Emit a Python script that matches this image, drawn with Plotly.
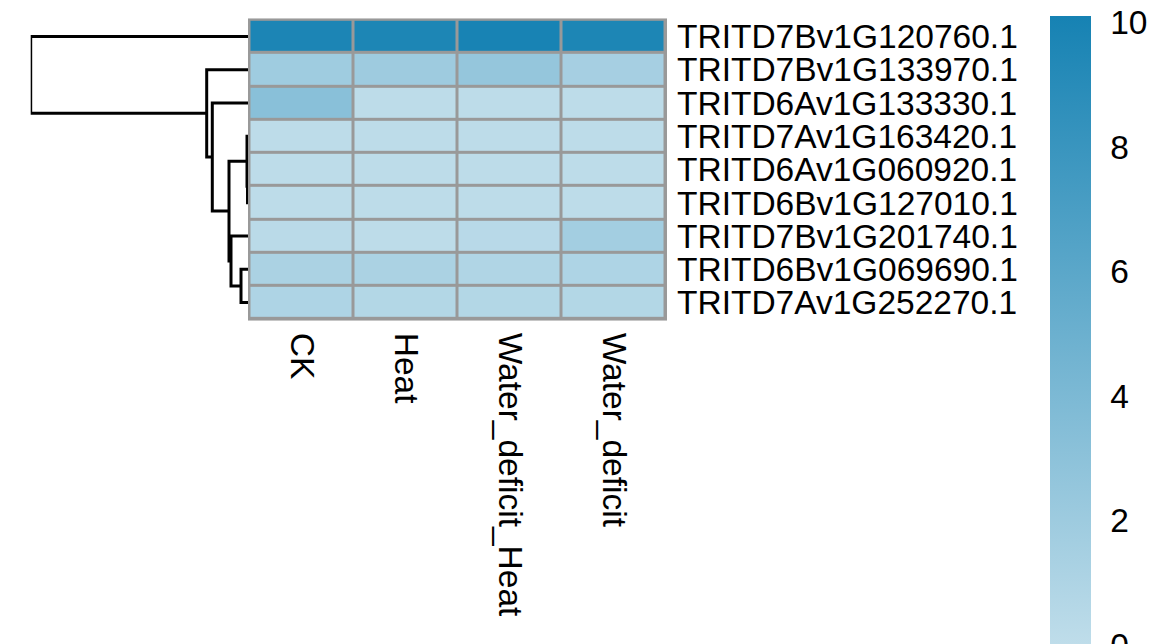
import plotly.graph_objects as go

# ---------------- data ----------------
genes = [
    "TRITD7Bv1G120760.1",
    "TRITD7Bv1G133970.1",
    "TRITD6Av1G133330.1",
    "TRITD7Av1G163420.1",
    "TRITD6Av1G060920.1",
    "TRITD6Bv1G127010.1",
    "TRITD7Bv1G201740.1",
    "TRITD6Bv1G069690.1",
    "TRITD7Av1G252270.1",
]
conditions = ["CK", "Heat", "Water_deficit_Heat", "Water_deficit"]

values_CK = [9.75, 1.9, 3.2, 0.1, 0.1, 0.1, 0.3, 1.2, 1.0]
values_Heat = [9.7, 2.0, 0.1, 0.1, 0.1, 0.1, 0.1, 1.2, 0.7]
values_WDH = [10.0, 2.5, 0.1, 0.1, 0.1, 0.1, 0.4, 0.9, 0.7]
values_WD = [9.7, 1.5, 0.1, 0.1, 0.1, 0.1, 1.7, 1.0, 0.7]

# hierarchical clustering merges (rows in display order).
# child is a leaf row index when the *_is_leaf flag is True, else a merge index
merge_left = [4, 3, 7, 6, 1, 2, 1, 0]
merge_right = [5, 0, 8, 2, 3, 4, 5, 6]
left_is_leaf = [True, True, True, True, False, True, True, True]
right_is_leaf = [True, False, True, False, False, False, False, False]
merge_height = [0.05, 0.10, 0.70, 1.70, 1.90, 3.57, 4.13, 21.73]

cbar_ticks = [0, 2, 4, 6, 8, 10]

# ---------------- layout helpers ----------------
W, H = 1170, 644
OFF = 8  # page body margin of the html page
FONT = "Liberation Sans, Arial, sans-serif"
FS = 33.5

hm_left, hm_right = 248 - OFF, 667 - OFF
hm_top, hm_bottom = 18.3 - OFF, 320.7 - OFF
dendro_left = 30.7 - OFF
border = 3
ncol, nrow = len(conditions), len(genes)
cw = (hm_right - hm_left - border) / ncol
ch = (hm_bottom - hm_top - border) / nrow
ext_x = (border / 2) / cw
ext_y = (border / 2) / ch

z = [[values_CK[i], values_Heat[i], values_WDH[i], values_WD[i]] for i in range(nrow)]

fig = go.Figure()

fig.add_trace(go.Heatmap(
    z=z,
    x=list(range(ncol)),
    y=list(range(nrow)),
    colorscale=[[0, "#BFDDEA"], [1, "#1682B3"]],
    zmin=0, zmax=10.1,
    xgap=border, ygap=border,
    hoverinfo="skip",
    colorbar=dict(
        x=(1050 - OFF) / W, xanchor="left", xpad=0,
        y=1 - (16 - OFF) / H, yanchor="top", ypad=0,
        thickness=41,
        lenmode="pixels", len=629,
        outlinewidth=0,
        tickvals=cbar_ticks,
        ticktext=[str(t) for t in cbar_ticks],
        ticks="outside", ticklen=13, tickcolor="rgba(0,0,0,0)",
        ticklabeloverflow="allow",
        tickfont=dict(family=FONT, size=FS, color="black"),
    ),
))

# border/grid background under the heatmap
fig.add_shape(type="rect", xref="x", yref="y",
              x0=-0.5 - ext_x, x1=ncol - 0.5 + ext_x,
              y0=-0.5 - ext_y, y1=nrow - 0.5 + ext_y,
              fillcolor="#999999", line=dict(width=0), layer="below")

# ---------------- dendrogram ----------------
node_y = []
node_h = []
xs, ys = [], []
for k in range(len(merge_height)):
    def child(idx, is_leaf):
        if is_leaf:
            return float(idx), 0.0
        return node_y[idx], node_h[idx]
    yl, hl = child(merge_left[k], left_is_leaf[k])
    yr, hr = child(merge_right[k], right_is_leaf[k])
    h = merge_height[k]
    xs += [hl, h, h, hr, None]
    ys += [yl, yl, yr, yr, None]
    node_y.append((yl + yr) / 2)
    node_h.append(h)

fig.add_trace(go.Scatter(
    x=xs, y=ys, xaxis="x2", yaxis="y", mode="lines",
    line=dict(color="black", width=3), hoverinfo="skip", showlegend=False,
    connectgaps=False,
))

fig.update_layout(
    width=W, height=H, autosize=False,
    margin=dict(l=0, r=0, t=0, b=0),
    paper_bgcolor="white", plot_bgcolor="white",
    showlegend=False,
    xaxis=dict(
        domain=[hm_left / W, hm_right / W],
        range=[-0.5 - ext_x, ncol - 0.5 + ext_x],
        tickvals=list(range(ncol)), ticktext=conditions,
        tickangle=90, ticks="", ticklabelstandoff=11,
        showgrid=False, zeroline=False, showline=False,
        tickfont=dict(family=FONT, size=FS, color="black"),
        anchor="y",
    ),
    yaxis=dict(
        domain=[1 - hm_bottom / H, 1 - hm_top / H],
        range=[nrow - 0.5 + ext_y, -0.5 - ext_y],
        tickvals=list(range(nrow)), ticktext=genes,
        side="right", ticks="", ticklabelstandoff=9,
        showgrid=False, zeroline=False, showline=False,
        tickfont=dict(family=FONT, size=FS, color="black"),
        anchor="x",
    ),
    xaxis2=dict(
        domain=[dendro_left / W, hm_left / W],
        range=[merge_height[-1], 0],
        visible=False, anchor="y",
        showgrid=False, zeroline=False,
    ),
)

fig.write_html("out.html")
